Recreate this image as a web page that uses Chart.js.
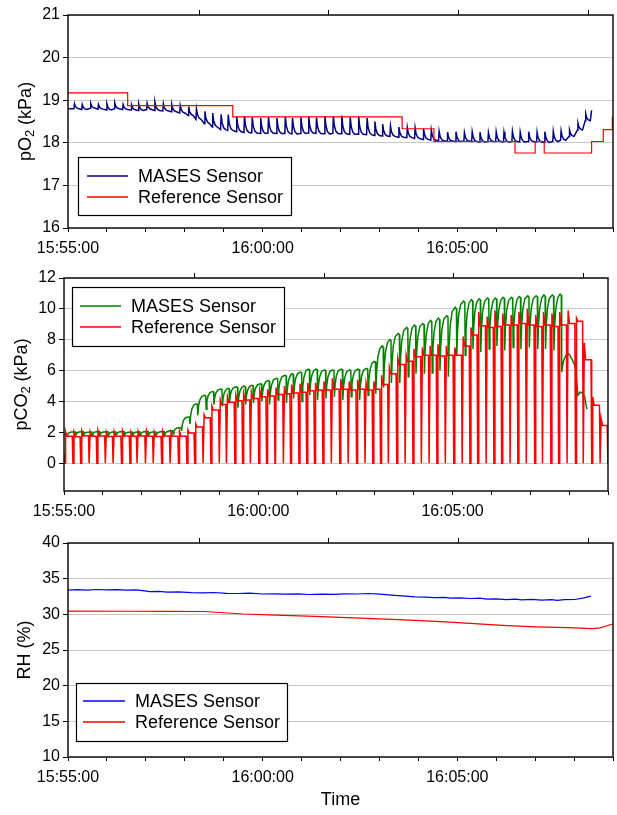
<!DOCTYPE html>
<html>
<head>
<meta charset="utf-8">
<script src="https://cdn.jsdelivr.net/npm/chart.js@4.4.0/dist/chart.umd.min.js"></script>
<style>
  html, body { margin: 0; padding: 0; background: #fff; }
  #wrap { position: relative; width: 617px; height: 815px; }
  canvas { position: absolute; left: 0; }
</style>
</head>
<body>
<div id="wrap">
  <canvas id="o2" width="617" height="258" style="top:0px"></canvas>
  <canvas id="co2" width="617" height="258" style="top:258px"></canvas>
  <canvas id="rh" width="617" height="299" style="top:516px"></canvas>
</div>
<script>
// time is in seconds after 15:55:00
const timeLabels = { 0: '15:55:00', 300: '16:00:00', 600: '16:05:00' };
const topTicks = [202, 402, 602, 802];

// start of every breath (reference CO2 drops to zero)
const breathTimes = [1, 14, 26, 39, 51, 64, 76, 89, 102, 113,
  126, 138, 151, 164, 177, 190, 202, 215, 227, 240,
  251, 264, 276, 288, 301, 313, 326, 339, 350, 363,
  375, 387, 400, 413, 426, 439, 452, 465, 477, 489,
  501, 514, 527, 539, 552, 564, 576, 589, 602, 615,
  627, 639, 652, 664, 676, 689, 701, 714, 727, 739,
  752, 764, 777, 790, 802, 815, 828, 840];

// pCO2 reference: plateau and spike per breath
const co2RefLevel = [1.75, 1.72, 1.78, 1.74, 1.76, 1.73, 1.75, 1.77, 1.74, 1.76,
  1.75, 1.73, 1.76, 1.74, 1.75, 1.95, 2.35, 2.95, 3.45, 3.80,
  3.95, 4.05, 4.10, 4.20, 4.30, 4.35, 4.45, 4.50, 4.55, 4.60,
  4.70, 4.75, 4.75, 4.80, 4.80, 4.75, 4.80, 4.75, 4.80, 5.10,
  5.80, 6.40, 6.60, 6.90, 7.00, 7.00, 6.95, 7.00, 7.00, 7.60,
  8.30, 8.90, 8.80, 8.85, 8.95, 8.95, 9.05, 8.95, 8.85, 8.95,
  8.85, 8.95, 9.05, 9.20, 6.70, 3.75, 2.45];
const co2RefSpike = [2.05, 2.00, 2.08, 2.02, 2.10, 2.00, 2.05, 2.08, 2.00, 2.05,
  2.10, 2.02, 2.05, 2.00, 2.05, 2.15, 2.55, 3.15, 3.70, 4.10,
  4.30, 4.40, 4.50, 4.60, 4.70, 4.80, 4.90, 5.00, 5.10, 5.15,
  5.20, 5.20, 5.30, 5.50, 5.45, 5.30, 5.40, 5.20, 5.30, 5.70,
  6.20, 6.80, 7.00, 7.40, 7.50, 7.60, 7.70, 7.60, 7.50, 8.20,
  8.80, 9.80, 9.50, 9.90, 9.70, 9.60, 9.80, 10.00, 9.60, 9.80,
  9.70, 9.80, 9.90, 9.40, 7.80, 4.30, 2.90];

// pCO2 MASES: trough and peak per breath
const co2MasesTrough = [1.84, 1.82, 1.85, 1.81, 1.83, 1.80, 1.84, 1.82, 1.83, 1.81,
  1.84, 1.82, 1.83, 1.90, 2.10, 2.55, 3.10, 3.50, 3.80, 3.70,
  3.90, 3.60, 3.80, 3.90, 4.00, 3.80, 4.10, 3.90, 4.20, 4.00,
  4.40, 4.10, 4.20, 4.30, 4.10, 4.30, 4.10, 4.40, 4.50, 4.90,
  5.20, 5.20, 5.60, 5.80, 5.80, 5.85, 6.00, 5.60, 7.00, 7.00,
  7.40, 7.20, 7.40, 7.60, 7.30, 7.50, 7.40, 7.50, 7.40, 7.40, 7.30];
const co2MasesPeak = [2.03, 2.05, 2.02, 2.06, 2.04, 2.03, 2.05, 2.02, 2.04, 2.06,
  2.03, 2.05, 2.10, 2.30, 3.00, 3.85, 4.40, 4.65, 4.80, 4.85,
  4.95, 5.00, 5.05, 5.15, 5.35, 5.50, 5.70, 5.80, 5.90, 6.10,
  6.10, 6.05, 6.05, 6.10, 6.05, 6.10, 6.15, 6.60, 7.60, 8.00,
  8.40, 8.80, 8.95, 9.05, 9.25, 9.40, 9.55, 10.10, 10.50, 10.60,
  10.65, 10.70, 10.70, 10.75, 10.75, 10.80, 10.85, 10.85, 10.90, 10.90, 10.95];
const co2MasesTail = [[768.5, 5.9], [771, 6.6], [775, 7.0], [779, 7.1], [781, 7.0],
  [786, 6.6], [790, 6.2], [793.5, 4.4], [797, 4.6], [801, 4.55], [804, 4.3],
  [806, 3.8], [807.5, 3.5]];

// pO2 MASES: baseline and peak for breaths 1..64
const o2MasesBase = [18.80, 18.78, 18.81, 18.79, 18.77, 18.80, 18.78, 18.77, 18.76, 18.78,
  18.76, 18.75, 18.73, 18.70, 18.64, 18.55, 18.45, 18.37, 18.31, 18.29,
  18.26, 18.24, 18.23, 18.22, 18.23, 18.22, 18.22, 18.21, 18.22, 18.23,
  18.22, 18.21, 18.22, 18.21, 18.20, 18.20, 18.19, 18.17, 18.16, 18.15,
  18.13, 18.12, 18.10, 18.08, 18.06, 18.05, 18.04, 18.03, 18.04, 18.03,
  18.02, 18.03, 18.03, 18.02, 18.03, 18.02, 18.03, 18.02, 18.01, 18.03,
  18.06, 18.15, 18.30, 18.52];
const o2MasesPeak = [18.92, 18.90, 18.93, 18.90, 18.92, 18.94, 18.90, 18.89, 18.92, 18.93,
  18.96, 18.92, 18.90, 18.88, 18.85, 18.80, 18.74, 18.70, 18.67, 18.66,
  18.62, 18.63, 18.60, 18.58, 18.60, 18.58, 18.61, 18.58, 18.60, 18.62,
  18.59, 18.63, 18.62, 18.64, 18.60, 18.62, 18.58, 18.50, 18.44, 18.40,
  18.37, 18.36, 18.35, 18.33, 18.30, 18.27, 18.25, 18.26, 18.24, 18.26,
  18.25, 18.24, 18.26, 18.25, 18.27, 18.25, 18.26, 18.25, 18.26, 18.27,
  18.28, 18.30, 18.46, 18.68];
const o2MasesEnd = 18.76;

// pO2 reference steps
const o2RefTimes = [0, 92, 254, 515, 564, 689, 720, 734, 807, 825, 839, 840];
const o2RefValues = [19.17, 18.875, 18.61, 18.33, 18.03, 17.76, 18.03, 17.76, 18.03, 18.31, 18.6, 18.6];

// RH
const rhMasesTimes = [0, 15, 30, 44, 60, 75, 90, 105, 118, 126, 140, 153, 170, 190, 208, 225,
  245, 262, 280, 300, 317, 335, 355, 371, 390, 410, 426, 445, 464, 480, 495, 503,
  520, 535, 550, 565, 580, 590, 605, 620, 635, 645, 660, 675, 690, 699, 715, 730,
  745, 754, 765, 781, 795, 806];
const rhMasesValues = [33.40, 33.45, 33.38, 33.48, 33.42, 33.46, 33.40, 33.43, 33.30, 33.18, 33.22, 33.10, 33.15, 33.05, 33.02, 33.06,
  32.95, 32.92, 32.96, 32.85, 32.88, 32.82, 32.86, 32.78, 32.84, 32.80, 32.88, 32.85, 32.92, 32.82, 32.72, 32.66,
  32.55, 32.45, 32.40, 32.35, 32.38, 32.28, 32.32, 32.22, 32.26, 32.14, 32.18, 32.05, 32.12, 32.04, 32.10, 31.98,
  32.06, 31.96, 32.05, 32.08, 32.30, 32.55];
const rhRefTimes = [0, 100, 150, 210, 240, 270, 320, 380, 430, 500, 560, 620, 670, 720, 770, 808, 820, 840];
const rhRefValues = [30.45, 30.43, 30.42, 30.40, 30.22, 30.05, 29.90, 29.72, 29.55, 29.30, 29.05, 28.72, 28.45, 28.25, 28.15, 28.00, 28.10, 28.65];

const RED = '#ff0000';
const FONT = "'Liberation Sans', Arial, sans-serif";

function pairs(xs, ys) {
  return xs.map((x, i) => ({ x: x, y: ys[i] }));
}

function co2RefPoints() {
  const pts = [{ x: 0, y: 0.6 }];
  for (let i = 0; i < co2RefLevel.length; i++) {
    const t = breathTimes[i], next = breathTimes[i + 1];
    pts.push({ x: t - 0.2, y: 0 }, { x: t + 0.6, y: 0 },
      { x: t + 1.4, y: co2RefSpike[i] }, { x: t + 3.5, y: co2RefLevel[i] },
      { x: next - 1.2, y: co2RefLevel[i] });
  }
  const last = breathTimes[breathTimes.length - 1];
  pts.push({ x: last - 0.2, y: 0 }, { x: last + 2, y: 0 });
  return pts;
}

function co2MasesPoints() {
  const pts = [{ x: 0, y: 1.9 }];
  for (let i = 0; i < co2MasesPeak.length; i++) {
    const t0 = breathTimes[i] + 4.5, t1 = breathTimes[i + 1] + 4.5;
    const lo = co2MasesTrough[i], d = co2MasesPeak[i] - lo;
    pts.push({ x: t0, y: lo }, { x: t0 + 1.2, y: lo + 0.45 * d }, { x: t0 + 3, y: lo + 0.75 * d },
      { x: t0 + 6, y: lo + 0.94 * d }, { x: t1 - 2.5, y: lo + d }, { x: t1 - 0.6, y: lo + 0.98 * d });
  }
  co2MasesTail.forEach(p => pts.push({ x: p[0], y: p[1] }));
  return pts;
}

function o2MasesPoints() {
  const pts = [{ x: 0, y: 18.8 }];
  for (let i = 0; i < o2MasesPeak.length; i++) {
    const tp = breathTimes[i + 1] - 4;
    const b = o2MasesBase[i], d = o2MasesPeak[i] - b;
    pts.push({ x: tp - 0.8, y: b }, { x: tp, y: b + d }, { x: tp + 1.5, y: b + 0.45 * d },
      { x: tp + 4, y: b + 0.12 * d }, { x: tp + 7, y: b });
  }
  pts.push({ x: 807, y: o2MasesEnd });
  return pts;
}

Chart.defaults.font.family = FONT;
Chart.defaults.color = '#000';

// black frame around the plot area
const framePlugin = {
  id: 'frame',
  afterDatasetsDraw(chart) {
    const { ctx, chartArea: a } = chart;
    ctx.save();
    ctx.strokeStyle = '#111';
    ctx.lineWidth = 1.5;
    ctx.strokeRect(a.left, a.top, a.right - a.left, a.bottom - a.top);
    ctx.restore();
  }
};

// y title with a real subscript
const yTitlePlugin = {
  id: 'yTitle',
  afterDraw(chart, args, o) {
    const { ctx, chartArea: a } = chart;
    const big = '18px ' + FONT, small = '13px ' + FONT;
    ctx.save();
    ctx.translate(o.x, (a.top + a.bottom) / 2);
    ctx.rotate(-Math.PI / 2);
    ctx.textBaseline = 'middle';
    ctx.fillStyle = '#000';
    let w = 0;
    o.parts.forEach(p => { ctx.font = p.sub ? small : big; w += ctx.measureText(p.text).width; });
    let x = -w / 2;
    o.parts.forEach(p => {
      ctx.font = p.sub ? small : big;
      ctx.fillText(p.text, x, p.sub ? 4 : 0);
      x += ctx.measureText(p.text).width;
    });
    ctx.restore();
  }
};

// boxed legend placed inside the plot
const boxLegend = {
  id: 'boxLegend',
  afterDraw(chart, args, o) {
    const ctx = chart.ctx;
    ctx.save();
    ctx.fillStyle = '#fff';
    ctx.fillRect(o.left, o.top, o.width, o.height);
    ctx.strokeStyle = '#000';
    ctx.lineWidth = 1.2;
    ctx.strokeRect(o.left + 0.5, o.top + 0.5, o.width, o.height);
    ctx.font = '18px ' + FONT;
    ctx.textBaseline = 'middle';
    const sets = chart.data.datasets;
    o.rows.forEach((y, i) => {
      const ds = sets[i];
      ctx.strokeStyle = ds.borderColor;
      ctx.lineWidth = 1.5;
      ctx.beginPath();
      ctx.moveTo(o.lineX1, y);
      ctx.lineTo(o.lineX2, y);
      ctx.stroke();
      ctx.fillStyle = '#000';
      ctx.fillText(ds.label, o.textX, y + 1);
    });
    ctx.restore();
  }
};

function makePanel(id, p) {
  const scales = {
    x: {
      type: 'linear', min: 0, max: 840, position: 'bottom',
      afterFit: s => { s.height = p.xHeight; s.paddingLeft = 0; s.paddingRight = 0; },
      afterBuildTicks: s => {
        const t = [];
        for (let v = 0; v <= 840; v += 60) t.push({ value: v });
        s.ticks = t;
      },
      ticks: {
        autoSkip: false, maxRotation: 0, padding: 7,
        font: { size: 16 },
        callback: v => timeLabels[v] || ''
      },
      grid: { drawOnChartArea: false, drawTicks: true, tickLength: 4, tickColor: '#000' },
      border: { display: false },
      title: p.xTitle ? { display: true, text: p.xTitle, font: { size: 18 }, padding: { top: 0, bottom: 4 } } : { display: false }
    },
    x2: {
      type: 'linear', min: 0, max: 840, position: 'top',
      afterFit: s => { s.height = p.topHeight; s.paddingLeft = 0; s.paddingRight = 0; },
      afterBuildTicks: s => { s.ticks = topTicks.map(v => ({ value: v })); },
      ticks: { display: false },
      grid: { drawOnChartArea: false, drawTicks: true, tickLength: 5, tickColor: '#000' },
      border: { display: false }
    },
    y: {
      type: 'linear', min: p.yMin, max: p.yMax,
      afterFit: s => { s.width = p.yWidth; },
      afterBuildTicks: s => { s.ticks = p.yTicks.map(v => ({ value: v })); },
      ticks: { padding: 3, font: { size: 16 } },
      grid: { color: '#c8c8c8', lineWidth: 1, tickLength: 5, tickColor: '#000' },
      border: { display: false },
      title: { display: false }
    }
  };
  return new Chart(document.getElementById(id), {
    type: 'line',
    data: { datasets: p.datasets },
    options: {
      responsive: false,
      animation: false,
      devicePixelRatio: 1,
      layout: { padding: { left: 0, right: p.padRight, top: 0, bottom: 0 } },
      elements: { point: { radius: 0 }, line: { tension: 0 } },
      scales: scales,
      plugins: {
        legend: { display: false }, tooltip: { enabled: false },
        boxLegend: p.legend, yTitle: p.yTitle
      }
    },
    plugins: [framePlugin, boxLegend, yTitlePlugin]
  });
}

makePanel('o2', {
  xHeight: 30, topHeight: 15, yWidth: 68, padRight: 4,
  yMin: 16, yMax: 21, yTicks: [16, 17, 18, 19, 20, 21],
  yTitle: { x: 26, parts: [{ text: 'pO' }, { text: '2', sub: true }, { text: ' (kPa)' }] },
  legend: { left: 78, top: 157, width: 213, height: 58, lineX1: 87, lineX2: 128, textX: 138, rows: [176, 197] },
  datasets: [
    { label: 'MASES Sensor', data: o2MasesPoints(), borderColor: '#000080', borderWidth: 1.5, order: 1 },
    { label: 'Reference Sensor', data: pairs(o2RefTimes, o2RefValues), borderColor: RED, borderWidth: 1.2, stepped: true, order: 0 }
  ]
});

makePanel('co2', {
  xHeight: 25, topHeight: 20, yWidth: 64, padRight: 9,
  yMin: -1.8, yMax: 12, yTicks: [0, 2, 4, 6, 8, 10, 12],
  yTitle: { x: 22, parts: [{ text: 'pCO' }, { text: '2', sub: true }, { text: ' (kPa)' }] },
  legend: { left: 72, top: 29, width: 212, height: 59, lineX1: 80, lineX2: 121, textX: 131, rows: [48, 69] },
  datasets: [
    { label: 'MASES Sensor', data: co2MasesPoints(), borderColor: '#008000', borderWidth: 1.5, order: 1 },
    { label: 'Reference Sensor', data: co2RefPoints(), borderColor: RED, borderWidth: 1.5, order: 0 }
  ]
});

makePanel('rh', {
  xHeight: 58, topHeight: 27, yWidth: 68, padRight: 4, xTitle: 'Time',
  yMin: 10, yMax: 40, yTicks: [10, 15, 20, 25, 30, 35, 40],
  yTitle: { x: 25, parts: [{ text: 'RH (%)' }] },
  legend: { left: 76, top: 167, width: 211, height: 58, lineX1: 83, lineX2: 125, textX: 135, rows: [185, 206] },
  datasets: [
    { label: 'MASES Sensor', data: pairs(rhMasesTimes, rhMasesValues), borderColor: '#0000ff', borderWidth: 1.2, order: 1 },
    { label: 'Reference Sensor', data: pairs(rhRefTimes, rhRefValues), borderColor: RED, borderWidth: 1.2, order: 0 }
  ]
});
</script>
</body>
</html>
